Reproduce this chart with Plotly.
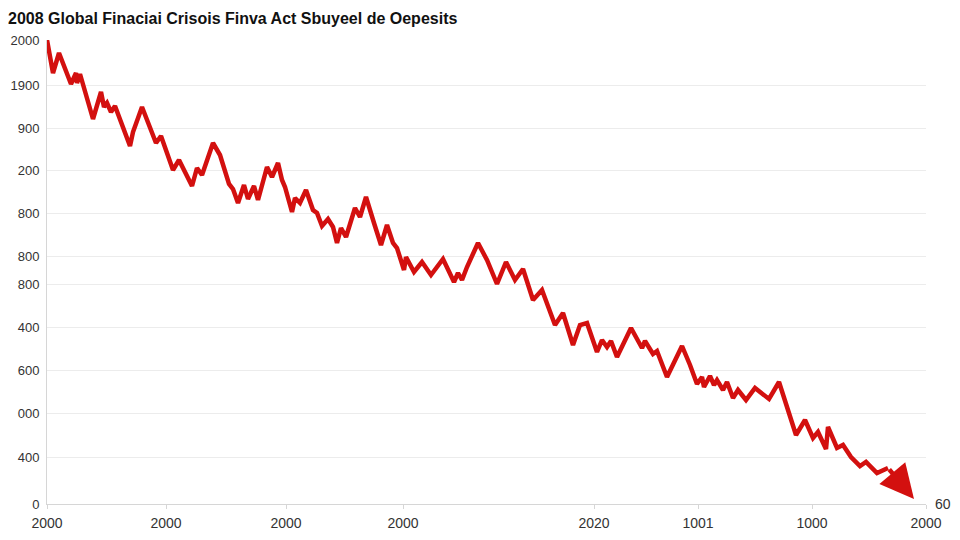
import plotly.graph_objects as go

# Series (x: time units, y: value units)
x_vals = [0, 6, 12, 24, 29, 30, 33, 46, 54, 57, 60, 64, 68, 79, 83, 86, 95, 109, 114, 126,
          132, 145, 150, 155, 166, 173, 182, 186, 191, 197, 201, 207, 211, 220, 225, 231, 235,
          238, 245, 248, 253, 259, 266, 270, 275, 281, 286, 290, 294, 299, 308, 313, 319, 327,
          334, 340, 346, 350, 357, 359, 367, 375, 384, 396, 407, 411, 415, 420, 431, 440, 450,
          459, 468, 476, 486, 495, 508, 516, 526, 533, 540, 550, 555, 560, 564, 570, 584, 595,
          598, 606, 610, 620, 635, 643, 650, 655, 657, 663, 667, 670, 676, 680, 686, 691, 699,
          708, 715, 722, 732, 749, 758, 766, 771, 779, 781, 790, 796, 804, 813, 819, 830, 841]
y_vals = [464, 431, 451, 420, 431, 421, 430, 385, 412, 397, 401, 392, 398, 367, 358, 372, 397,
          361, 368, 334, 344, 318, 336, 329, 361, 349, 320, 315, 301, 319, 305, 318, 304, 337,
          327, 341, 324, 317, 292, 306, 301, 314, 294, 291, 278, 285, 277, 261, 276, 267, 296,
          287, 307, 281, 259, 279, 261, 256, 234, 247, 232, 242, 229, 245, 222, 231, 224, 237,
          261, 244, 220, 242, 224, 235, 204, 214, 179, 191, 159, 179, 181, 152, 164, 157, 163,
          147, 176, 156, 163, 150, 153, 127, 158, 139, 120, 127, 117, 128, 119, 124, 114, 122,
          106, 114, 104, 116, 111, 105, 122, 69, 84, 66, 72, 55, 77, 56, 59, 47, 38, 42, 31, 36]
arrow_tip = (867, 5)

title_text = "2008 Global Finaciai Crisois Finva Act Sbuyeel de Oepesits"
y_tick_vals = [464, 419, 376, 334, 291, 248, 220, 177, 134, 91, 47, 0]
y_tick_text = ["2000", "1900", "900", "200", "800", "800", "800", "400", "600", "000", "400", "0"]
x_tick_vals = [0, 119, 239, 356, 547, 651, 765, 879]
x_tick_text = ["2000", "2000", "2000", "2000", "2020", "1001", "1000", "2000"]
end_label = "60"

LINE_RED = "#d3100f"
FONT = "Liberation Sans, Arial, sans-serif"

fig = go.Figure()
fig.add_trace(go.Scatter(
    x=x_vals, y=y_vals, mode="lines",
    line=dict(color=LINE_RED, width=4.5),
    hoverinfo="skip", showlegend=False,
))

fig.add_annotation(
    x=arrow_tip[0], y=arrow_tip[1], ax=x_vals[-1], ay=y_vals[-1],
    xref="x", yref="y", axref="x", ayref="y",
    showarrow=True, arrowhead=2, arrowsize=1.5, arrowwidth=4.5,
    arrowcolor=LINE_RED, text="",
)
fig.add_annotation(
    x=1, y=0, xref="paper", yref="y", text=end_label, showarrow=False,
    xanchor="left", yanchor="middle", xshift=7,
    font=dict(size=14, color="#333333"),
)
fig.add_annotation(
    x=0, y=1, xref="paper", yref="paper", text="<b>" + title_text + "</b>",
    showarrow=False, xanchor="left", yanchor="middle", xshift=-41, yshift=22,
    font=dict(size=16, color="#111111", family=FONT),
)

fig.update_layout(
    width=960, height=540,
    margin=dict(l=39, r=42, t=32, b=44),
    paper_bgcolor="white", plot_bgcolor="white",
    font=dict(family=FONT, size=14, color="#333333"),
    showlegend=False,
)
fig.update_xaxes(
    range=[0, 879], tickvals=x_tick_vals, ticktext=x_tick_text, automargin=False,
    showgrid=False, zeroline=False, showline=True, linecolor="#d6d6d6", linewidth=1,
    ticks="outside", ticklen=4, tickcolor="#d6d6d6", ticklabelstandoff=2,
    tickfont=dict(size=14, color="#333333"),
)
fig.update_yaxes(
    range=[0, 464], tickvals=y_tick_vals, ticktext=y_tick_text, automargin=False,
    showgrid=True, gridcolor="#ececec", gridwidth=1, zeroline=False,
    showline=True, linecolor="#d6d6d6", linewidth=1, ticks="", ticklabelstandoff=4,
    tickfont=dict(size=13, color="#333333"),
)

fig.write_html("out.html")
